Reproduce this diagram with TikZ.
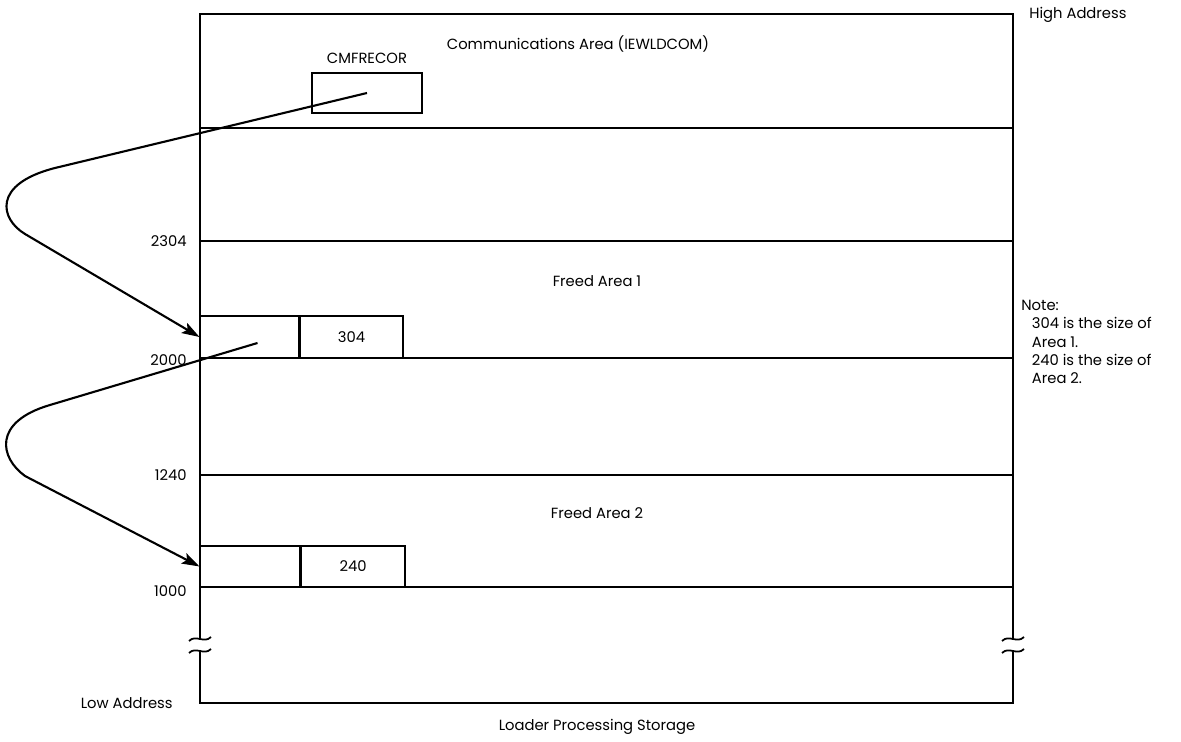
\documentclass[tikz,border=0pt]{standalone}
\usepackage{fontspec}
\setmainfont{Poppins}
\usetikzlibrary{arrows.meta,calc,positioning}
\tikzset{ptr/.style={line width=1.2pt, -{Stealth[length=10pt, width=6.5pt, inset=2pt]}},
  cell/.style={draw, line width=0.6pt, inner sep=0pt, minimum height=0.84cm},
  addr/.style={anchor=east, inner sep=0pt}}

\begin{document}
\begin{tikzpicture}[x=0.02cm, y=-0.02cm, font=\fontsize{8.4}{10.4}\selectfont]
  \useasboundingbox (0,0) rectangle (1181,742);
  % storage outline, broken near the bottom
  \draw[line width=1.1pt] (200,638) -- (200,14) -- (1013,14) -- (1013,638);
  \draw[line width=1.1pt] (200,650) -- (200,703) -- (1013,703) -- (1013,650);
  \foreach \x in {200,1013}{
    \draw[line width=1pt] (\x-11,641) .. controls (\x-4,634) and (\x+4,644) .. (\x+11,637);
    \draw[line width=1pt] (\x-11,653) .. controls (\x-4,646) and (\x+4,656) .. (\x+11,649);
  }
  \foreach \y in {128,241,358,475,587}{\draw[line width=0.6pt] (200,\y) -- (1013,\y);}
  % communications area
  \node (com) at (578,44) {Communications Area (IEWLDCOM)};
  \node[draw, line width=0.6pt, minimum width=2.2cm, minimum height=0.8cm] (cmf) at (367,93) {};
  \node[above=0.6mm of cmf] (cmflbl) {CMFRECOR};
  % freed areas
  \node (fa1) at (597,281) {Freed Area 1};
  \node[cell, minimum width=1.98cm] (c1l) at (249.5,337) {};
  \node[cell, minimum width=2.06cm, right=0pt of c1l] (c1r) {304};
  \node (fa2) at (597,513) {Freed Area 2};
  \node[cell, minimum width=2cm, minimum height=0.82cm] (c2l) at (250,566.5) {};
  \node[cell, minimum width=2.08cm, minimum height=0.82cm, right=0pt of c2l] (c2r) {240};
  % chain pointers
  \coordinate (s2) at ($(c1l.center)+(8,6)$);
  \draw[ptr] (cmf.center) -- (55,168) .. controls (-8,184) and (0,219) .. (25,234) -- (c1l.west);
  \draw[ptr] (s2) -- (50,405) .. controls (-8,422) and (0,458) .. (25,476) -- (c2l.west);
  % addresses
  \node[addr] (a2304) at (187,241) {2304};
  \node[addr] (a2000) at (187,360) {2000};
  \node[addr] (a1240) at (187,475) {1240};
  \node[addr] (a1000) at (187,591) {1000};
  \node[addr] (low) at (173,703) {Low Address};
  \node[anchor=west, inner sep=0pt] (high) at (1029,15) {High Address};
  \node[anchor=north west, inner sep=0pt, align=left] (note) at (1021,300)
    {Note:\\\hspace*{6pt}304 is the size of\\\hspace*{6pt}Area 1.\\\hspace*{6pt}240 is the size of\\\hspace*{6pt}Area 2.};
  \node (lps) at (597,727) {Loader Processing Storage};
\end{tikzpicture}
\end{document}
